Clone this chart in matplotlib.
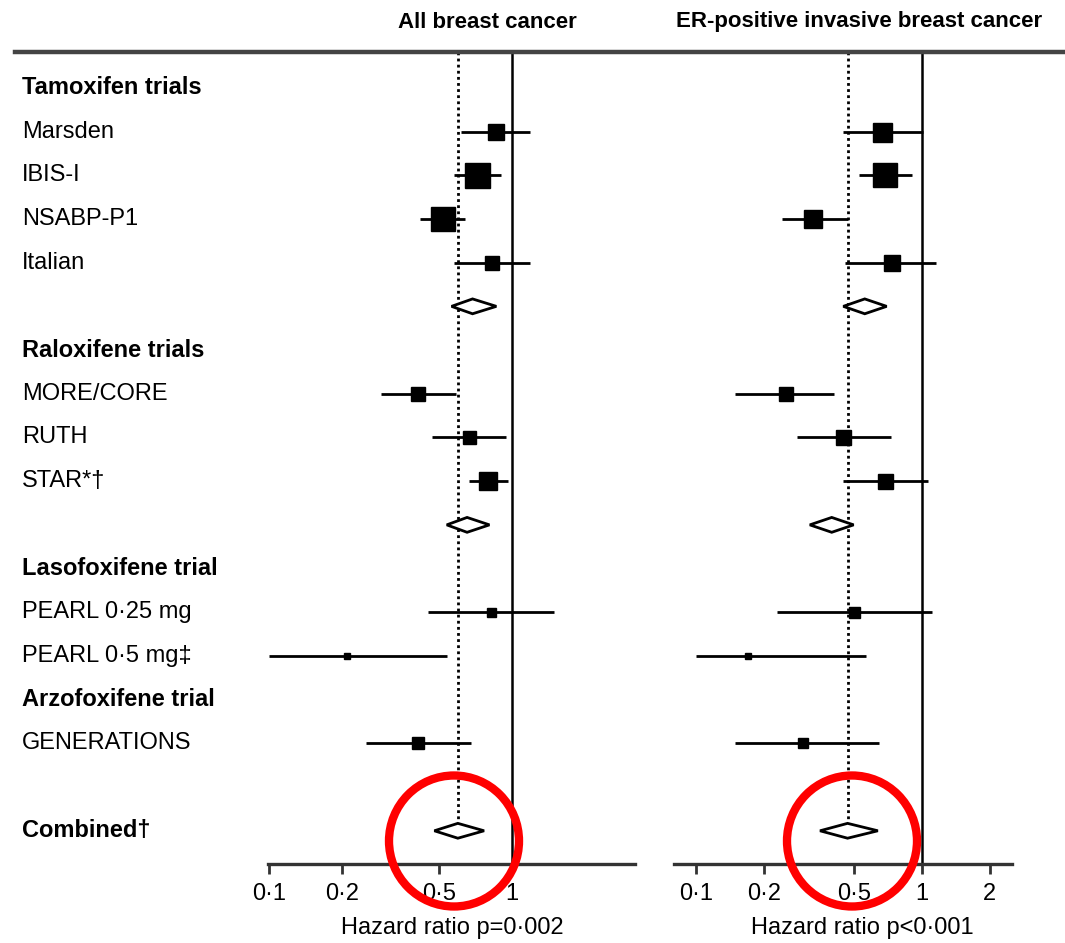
import numpy as np
import matplotlib
matplotlib.use('Agg')
import matplotlib.pyplot as plt
from matplotlib import transforms
from matplotlib.lines import Line2D
from matplotlib.patches import Ellipse
from matplotlib.ticker import FixedLocator, FixedFormatter, NullLocator

plt.rcParams['font.family'] = ['Liberation Sans', 'DejaVu Sans']

# rows top to bottom
headers = ['Tamoxifen trials', 'Raloxifene trials', 'Lasofoxifene trial',
           'Arzofoxifene trial', 'Combined\u2020']
header_rows = [0, 6, 11, 14, 17]

trials = ['Marsden', 'IBIS-I', 'NSABP-P1', 'Italian', 'MORE/CORE', 'RUTH',
          'STAR*\u2020', 'PEARL 0\u00b725 mg', 'PEARL 0\u00b75 mg\u2021', 'GENERATIONS']
trial_rows = [1, 2, 3, 4, 7, 8, 9, 12, 13, 15]

# all breast cancer
all_hr = [0.86, 0.72, 0.52, 0.83, 0.41, 0.67, 0.80, 0.82, 0.21, 0.41]
all_lo = [0.62, 0.58, 0.42, 0.58, 0.29, 0.47, 0.67, 0.45, 0.10, 0.25]
all_hi = [1.19, 0.90, 0.64, 1.19, 0.59, 0.95, 0.97, 1.49, 0.54, 0.68]
all_wt = [16, 25, 24, 14, 14, 13, 18, 9, 6, 12]

# ER-positive invasive
er_hr = [0.67, 0.69, 0.33, 0.74, 0.25, 0.45, 0.69, 0.50, 0.17, 0.30]
er_lo = [0.45, 0.53, 0.24, 0.46, 0.15, 0.28, 0.45, 0.23, 0.10, 0.15]
er_hi = [1.01, 0.91, 0.47, 1.16, 0.41, 0.73, 1.07, 1.11, 0.57, 0.65]
er_wt = [19, 24, 18, 16, 14, 15, 15, 11, 6, 10]

# pooled diamonds (tamoxifen, raloxifene, combined)
pool_rows = [5, 10, 17]
all_pool_hr = [0.69, 0.655, 0.60]
all_pool_lo = [0.565, 0.54, 0.48]
all_pool_hi = [0.865, 0.81, 0.77]
er_pool_hr = [0.56, 0.40, 0.47]
er_pool_lo = [0.45, 0.32, 0.355]
er_pool_hi = [0.70, 0.50, 0.64]

titles = ['All breast cancer', 'ER-positive invasive breast cancer']
xlabels = ['Hazard ratio p=0\u00b7002', 'Hazard ratio p<0\u00b7001']
tick_vals = [[0.1, 0.2, 0.5, 1], [0.1, 0.2, 0.5, 1, 2]]
tick_text = [['0\u00b71', '0\u00b72', '0\u00b75', '1'],
             ['0\u00b71', '0\u00b72', '0\u00b75', '1', '2']]

W, H = 1065, 943
fig = plt.figure(figsize=(W / 100, H / 100), dpi=100)

def fx(px): return px / W
def fy(py): return 1 - py / H

ax1 = fig.add_axes([fx(268), fy(864), fx(635 - 268), (864 - 52) / H])
ax2 = fig.add_axes([fx(674), fy(864), fx(1012 - 674), (864 - 52) / H])

panels = [
    (ax1, (0.0988, 3.23), all_hr, all_lo, all_hi, all_wt,
     all_pool_hr, all_pool_lo, all_pool_hi),
    (ax2, (0.0802, 2.51), er_hr, er_lo, er_hi, er_wt,
     er_pool_hr, er_pool_lo, er_pool_hi),
]

for i, (ax, xl, hr, lo, hi, wt, phr, plo, phi) in enumerate(panels):
    ax.set_xscale('log')
    ax.set_xlim(*xl)
    ax.set_ylim(17.76, -0.82)
    ax.axvline(1, color='black', lw=1.8, zorder=1)
    ax.vlines(phr[-1], -0.82, 16.8, color='black', lw=2.0,
              linestyle=(0, (1.0, 1.2)), zorder=1)
    ax.hlines(trial_rows, lo, hi, color='black', lw=2.0, zorder=2)
    for r, h, w in zip(trial_rows, hr, wt):
        ax.plot(h, r, 's', color='black', ms=w * 0.72, zorder=3)
    for r, h, l, u in zip(pool_rows, phr, plo, phi):
        ax.fill([l, h, u, h], [r, r - 0.17, r, r + 0.17], facecolor='white',
                edgecolor='black', lw=2.0, zorder=3)
    for s in ['top', 'left', 'right']:
        ax.spines[s].set_visible(False)
    ax.spines['bottom'].set_linewidth(2.4)
    ax.spines['bottom'].set_color('#333333')
    ax.yaxis.set_visible(False)
    ax.xaxis.set_major_locator(FixedLocator(tick_vals[i]))
    ax.xaxis.set_major_formatter(FixedFormatter(tick_text[i]))
    ax.xaxis.set_minor_locator(NullLocator())
    ax.tick_params(axis='x', direction='out', length=7, width=2,
                   color='#333333', labelsize=17, pad=7)
    ax.patch.set_alpha(0)

# row labels
tr = transforms.blended_transform_factory(fig.transFigure, ax1.transData)
for name, r in zip(headers, header_rows):
    ax1.text(fx(22), r, name, transform=tr, fontsize=17, fontweight='bold',
             va='center', ha='left', clip_on=False)
for name, r in zip(trials, trial_rows):
    ax1.text(fx(22), r, name, transform=tr, fontsize=17,
             va='center', ha='left', clip_on=False)

# titles and header rule
fig.text(fx(487), fy(22), titles[0], fontsize=16, fontweight='bold',
         ha='center', va='center')
fig.text(fx(859), fy(22), titles[1], fontsize=16, fontweight='bold',
         ha='center', va='center')
fig.add_artist(Line2D([fx(15), 1.0], [fy(52), fy(52)], color='#444444',
                      lw=3.2, transform=fig.transFigure))

# x labels
fig.text(fx(452), fy(928), xlabels[0], fontsize=17, ha='center', va='center')
fig.text(fx(862), fy(928), xlabels[1], fontsize=17, ha='center', va='center')

# red highlight circles
for cx in [454, 852]:
    fig.add_artist(Ellipse((fx(cx), fy(841)), 130 / W, 131 / H,
                           transform=fig.transFigure, fill=False,
                           edgecolor='#ff0000', lw=6, zorder=10))

fig.savefig('out.png', dpi=100)
